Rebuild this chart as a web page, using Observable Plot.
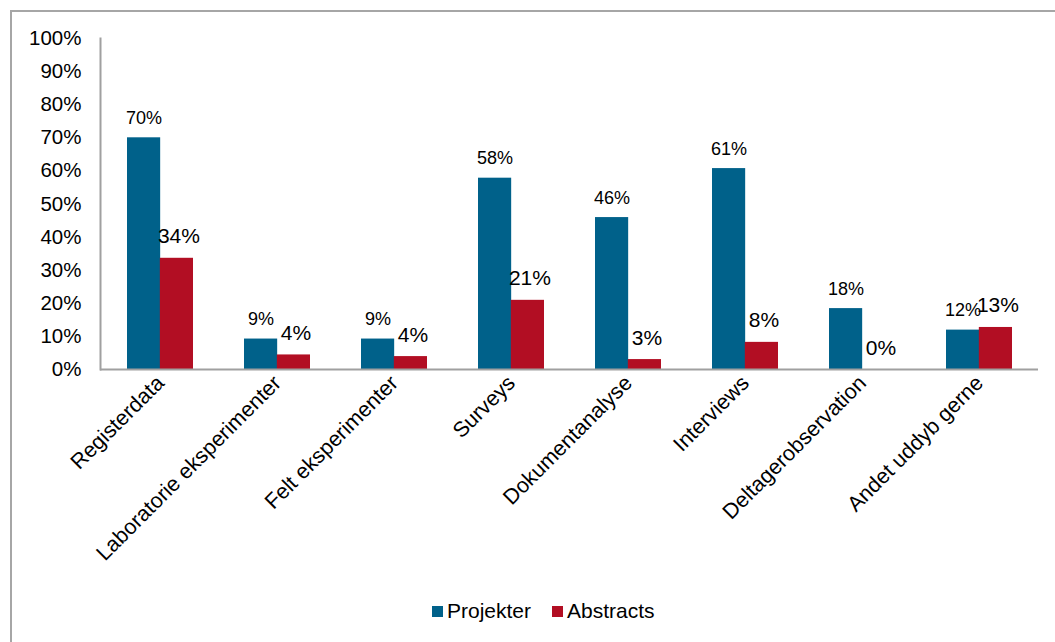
<!DOCTYPE html>
<html>
<head>
<meta charset="utf-8">
<script src="https://cdn.jsdelivr.net/npm/d3@7"></script>
<script src="https://cdn.jsdelivr.net/npm/@observablehq/plot@0.6"></script>
<style>
  html, body { margin: 0; padding: 0; background: #fff; }
  body { width: 1055px; height: 642px; position: relative; overflow: hidden; font-family: "Liberation Sans", Arial, sans-serif; }
  #frame { position: absolute; left: 10px; top: 10px; width: 1100px; height: 700px; border-left: 2px solid #a6a6a6; border-top: 2px solid #a6a6a6; }
  #chart { position: absolute; left: 0; top: 0; }
  #legend { position: absolute; left: 432px; top: 599px; display: flex; align-items: center; font-size: 21px; color: #000; }
  .sw { display: inline-block; width: 11px; height: 11px; margin-right: 4px; }
  .item { display: flex; align-items: center; margin-right: 21px; }
</style>
</head>
<body>
<div id="frame"></div>
<div id="chart"></div>
<div id="legend"></div>
<script>
const categories = ["Registerdata", "Laboratorie eksperimenter", "Felt eksperimenter", "Surveys", "Dokumentanalyse", "Interviews", "Deltagerobservation", "Andet uddyb gerne"];
const projekter = [0.70, 0.092, 0.092, 0.578, 0.459, 0.607, 0.184, 0.119];
const abstracts = [0.336, 0.044, 0.039, 0.209, 0.03, 0.082, 0.0, 0.127];
const seriesNames = ["Projekter", "Abstracts"];
const colors = ["#00618A", "#B20E23"];
const yTicks = d3.range(0, 11).map(i => i / 10);

const data = categories.map((c, i) => ({cat: c, proj: projekter[i], abs: abstracts[i]}));
const fmt = d3.format(".0%");
const half = 32.83;

const chart = Plot.plot({
  width: 1055,
  height: 590,
  marginLeft: 100,
  marginRight: 17,
  marginTop: 38,
  marginBottom: 221,
  style: {fontFamily: "'Liberation Sans', Arial, sans-serif", background: "transparent", color: "#000"},
  x: {domain: categories, paddingInner: 0.44, paddingOuter: 0.22, axis: null},
  y: {domain: [0, 1], axis: null},
  marks: [
    Plot.barY(data, {x: "cat", y: "proj", fill: colors[0], insetRight: half}),
    Plot.barY(data, {x: "cat", y: "abs", fill: colors[1], insetLeft: half}),
    Plot.text(data, {x: "cat", y: "proj", text: d => fmt(d.proj), dx: -half / 2, dy: -14, lineAnchor: "bottom", fontSize: 18, fill: "#000"}),
    Plot.text(data, {x: "cat", y: "abs", text: d => fmt(d.abs), dx: half / 2 + 2, dy: -15, lineAnchor: "bottom", fontSize: 21, fill: "#000"}),
    Plot.ruleY([0], {stroke: "#a0a0a0", strokeWidth: 2}),
    Plot.frame({anchor: "left", stroke: "#a0a0a0", strokeWidth: 2}),
    Plot.axisY(yTicks, {tickSize: 0, tickPadding: 19, tickFormat: fmt, fontSize: 20.5, label: null}),
    Plot.axisX({tickRotate: -45, tickSize: 0, tickPadding: 10, fontSize: 21.5, label: null})
  ]
});
document.getElementById("chart").appendChild(chart);

const legend = document.getElementById("legend");
seriesNames.forEach((n, i) => {
  const it = document.createElement("div");
  it.className = "item";
  it.innerHTML = `<span class="sw" style="background:${colors[i]}"></span><span>${n}</span>`;
  legend.appendChild(it);
});
</script>
</body>
</html>
